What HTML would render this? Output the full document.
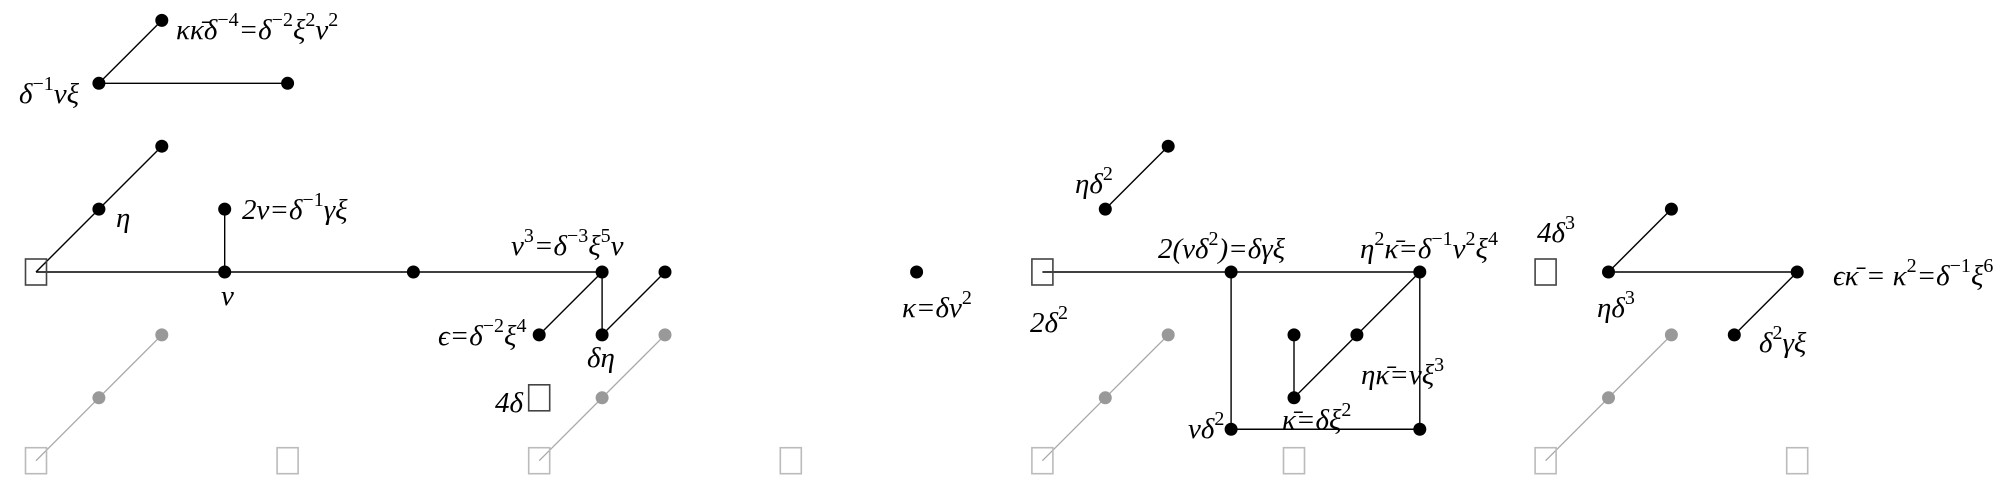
<!DOCTYPE html>
<html><head><meta charset="utf-8"><style>
html,body{margin:0;padding:0;background:#fff;}
svg{display:block;}
text{font-family:"Liberation Serif","DejaVu Serif",serif;font-style:italic;font-size:29px;fill:#000;}
</style></head><body>
<svg id="chart" width="2010" height="490" viewBox="0 0 2010 490" xmlns="http://www.w3.org/2000/svg"></svg>
<script>
// grid coordinates (column, row)
const blackDots = [[2,4],[1,3],[4,3],[2,2],[1,1],[3,1],[3,0],[6,0],[9,0],[10,0],[8,-1],[9,-1],[14,0],[18,2],[17,1],[19,0],[22,0],[20,-1],[21,-1],[20,-2],[19,-2.5],[22,-2.5],[26,1],[25,0],[28,0],[27,-1]];
const grayDots = [[1,-2],[2,-1],[9,-2],[10,-1],[17,-2],[18,-1],[25,-2],[26,-1]];
const blackBoxes = [[0,0],[8,-2],[16,0],[24,0]];
const grayBoxes = [[0,-3],[4,-3],[8,-3],[12,-3],[16,-3],[20,-3],[24,-3],[28,-3]];
const blackLines = [[[1,3],[2,4]],[[1,3],[4,3]],[[0,0],[2,2]],[[0,0],[9,0]],[[3,0],[3,1]],[[9,0],[8,-1]],[[9,0],[9,-1]],[[9,-1],[10,0]],
  [[17,1],[18,2]],[[16,0],[22,0]],[[19,0],[19,-2.5]],[[19,-2.5],[22,-2.5]],[[22,0],[22,-2.5]],[[22,0],[20,-2]],[[20,-1],[20,-2]],
  [[25,0],[26,1]],[[25,0],[28,0]],[[28,0],[27,-1]]];
const grayLines = [[[0,-3],[2,-1]],[[8,-3],[10,-1]],[[16,-3],[18,-1]],[[24,-3],[26,-1]]];
const labelTexts = [
 [176,39,[["κκ̄δ"],["−4",1],["=δ"],["−2",1],["ξ"],["2",1],["ν"],["2",1]]],
 [19,103,[["δ"],["−1",1],["νξ"]]],
 [116,227,[["η"]]],
 [242,219,[["2ν=δ"],["−1",1],["γξ"]]],
 [511,255,[["ν"],["3",1],["=δ"],["−3",1],["ξ"],["5",1],["ν"]]],
 [221,305,[["ν"]]],
 [438,345,[["ϵ=δ"],["−2",1],["ξ"],["4",1]]],
 [587,367,[["δη"]]],
 [495,412,[["4δ"]]],
 [902,317,[["κ=δν"],["2",1]]],
 [1075,193,[["ηδ"],["2",1]]],
 [1158,258,[["2(νδ"],["2",1],[")=δγξ"]]],
 [1030,332,[["2δ"],["2",1]]],
 [1360,258,[["η"],["2",1],["κ̄=δ"],["−1",1],["ν"],["2",1],["ξ"],["4",1]]],
 [1361,384,[["ηκ̄=νξ"],["3",1]]],
 [1282,429,[["κ̄=δξ"],["2",1]]],
 [1188,438,[["νδ"],["2",1]]],
 [1537,242,[["4δ"],["3",1]]],
 [1597,317,[["ηδ"],["3",1]]],
 [1759,352,[["δ"],["2",1],["γξ"]]],
 [1833,285,[["ϵκ̄ = κ"],["2",1],["=δ"],["−1",1],["ξ"],["6",1]]]
];
const NS="http://www.w3.org/2000/svg";
const svg=document.getElementById('chart');
const U=62.9;
function X(i){return 36+U*i;}
function Y(j){return 272-U*j;}
function mk(t,a){const e=document.createElementNS(NS,t);for(const k in a)e.setAttribute(k,a[k]);svg.appendChild(e);return e;}
grayLines.forEach(l=>{const e=mk('line',{x1:X(l[0][0]),y1:Y(l[0][1]),x2:X(l[1][0]),y2:Y(l[1][1]),stroke:'#a8a8a8','stroke-width':1.3});

});
blackLines.forEach(l=>{const e=mk('line',{x1:X(l[0][0]),y1:Y(l[0][1]),x2:X(l[1][0]),y2:Y(l[1][1]),stroke:'#000','stroke-width':1.4});

});
grayBoxes.forEach(b=>{const e=mk('rect',{x:X(b[0])-10.5,y:Y(b[1])-13,width:21,height:26,fill:'none',stroke:'#bbb','stroke-width':1.6});

});
blackBoxes.forEach(b=>{const e=mk('rect',{x:X(b[0])-10.5,y:Y(b[1])-13,width:21,height:26,fill:'none',stroke:'#444','stroke-width':1.6});

});
grayDots.forEach(d=>{const e=mk('circle',{cx:X(d[0]),cy:Y(d[1]),r:6.5,fill:'#999'});

});
blackDots.forEach(d=>{const e=mk('circle',{cx:X(d[0]),cy:Y(d[1]),r:6.5,fill:'#000'});

});
labelTexts.forEach(L=>{const t=mk('text',{x:L[0],y:L[1]});


L[2].forEach(p=>{const s=document.createElementNS(NS,'tspan');s.textContent=p[0];
if(p[1]){s.setAttribute('dy','-13');s.setAttribute('font-size','20');s.setAttribute('font-style','normal');}
t.appendChild(s);
if(p[1]){const r=document.createElementNS(NS,'tspan');r.setAttribute('dy','13');r.textContent='\u200B';t.appendChild(r);}
});});
</script>
</body></html>
